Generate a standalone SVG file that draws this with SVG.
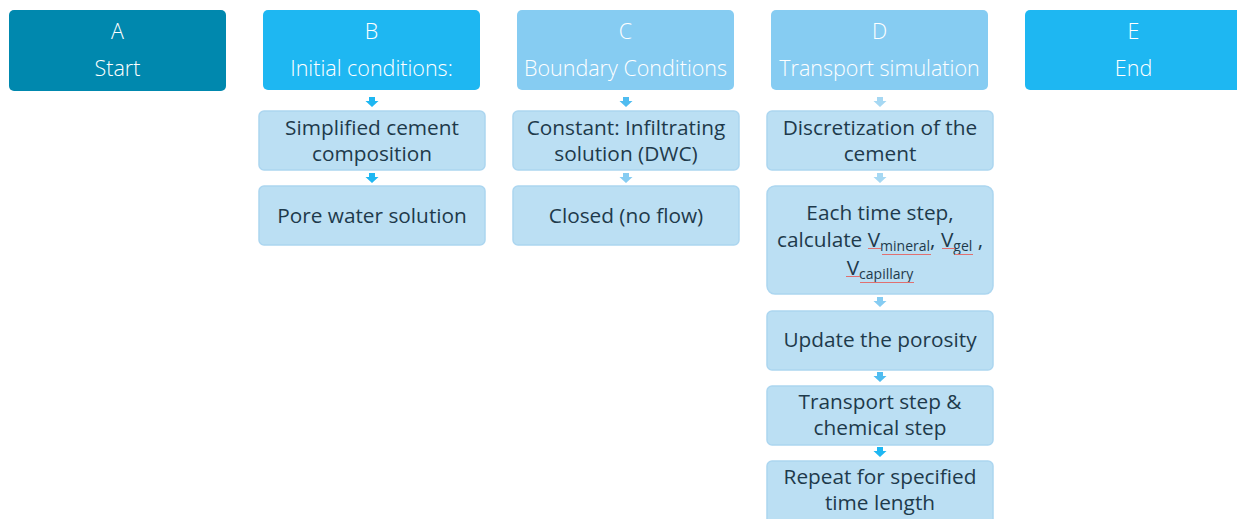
<svg xmlns="http://www.w3.org/2000/svg" width="1237" height="519" viewBox="0 0 1237 519">
<style>
.hdr{stroke:none}
.sub{fill:#bbdff3;stroke:#acd6f0;stroke-width:1.5}
.ht{font-family:"Open Sans","Liberation Sans",sans-serif;font-weight:300;font-size:21.5px;fill:#ffffff;text-anchor:middle}
.st{font-family:"Open Sans","Liberation Sans",sans-serif;font-size:20.8px;fill:#1e3a4b;text-anchor:middle}
.sb{font-size:14px}
.sq{stroke:#e07070;stroke-width:1;fill:none}
</style>
<rect width="1237" height="519" fill="#ffffff"/>
<g id="A"><rect class="hdr" x="9" y="10" width="217" height="81" rx="5" fill="#0088ae"/><text class="ht" x="117.5" y="39">A</text><text class="ht" x="117.5" y="76">Start</text></g>
<g id="B"><rect class="hdr" x="263" y="10" width="217" height="80" rx="5" fill="#1eb7f2"/><text class="ht" x="371.5" y="39">B</text><text class="ht" x="371.5" y="76">Initial conditions:</text></g>
<g id="C"><rect class="hdr" x="517" y="10" width="217" height="80" rx="5" fill="#86ccf2"/><text class="ht" x="625.5" y="39">C</text><text class="ht" x="625.5" y="76">Boundary Conditions</text></g>
<g id="D"><rect class="hdr" x="771" y="10" width="217" height="80" rx="5" fill="#86ccf2"/><text class="ht" x="879.5" y="39">D</text><text class="ht" x="879.5" y="76">Transport simulation</text></g>
<g id="E"><rect class="hdr" x="1025" y="10" width="225" height="80" rx="5" fill="#1eb7f2"/><text class="ht" x="1133.5" y="39">E</text><text class="ht" x="1133.5" y="76">End</text></g>
<g id="B1"><rect class="sub" x="259" y="111" width="226" height="59" rx="5"/><text class="st" x="372" y="135">Simplified cement</text><text class="st" x="372" y="161">composition</text></g>
<g id="B2"><rect class="sub" x="259" y="186" width="226" height="59" rx="5"/><text class="st" x="372" y="223">Pore water solution</text></g>
<g id="C1"><rect class="sub" x="513" y="111" width="226" height="59" rx="5"/><text class="st" x="626" y="135">Constant: Infiltrating</text><text class="st" x="626" y="161">solution (DWC)</text></g>
<g id="C2"><rect class="sub" x="513" y="186" width="226" height="59" rx="5"/><text class="st" x="626" y="223">Closed (no flow)</text></g>
<g id="D1"><rect class="sub" x="767" y="111" width="226" height="59" rx="5"/><text class="st" x="880" y="135">Discretization of the</text><text class="st" x="880" y="161">cement</text></g>
<g id="D2"><rect class="sub" x="767" y="186" width="226" height="108" rx="8"/><text class="st" x="880" y="220">Each time step,</text><text class="st" x="880" y="247">calculate V<tspan class="sb" dy="4">mineral</tspan><tspan dy="-4">, V</tspan><tspan class="sb" dy="4">gel</tspan><tspan dy="-4"> ,</tspan></text><text class="st" x="880" y="275">V<tspan class="sb" dy="4">capillary</tspan></text>
<path class="sq" d="M868 248.5 h13 M882 254.5 h49 M942 248.5 h13 M955 254.5 h18 M846 276.5 h14 M860 282.5 h54"/></g>
<g id="D3"><rect class="sub" x="767" y="311" width="226" height="59" rx="5"/><text class="st" x="880" y="347">Update the porosity</text></g>
<g id="D4"><rect class="sub" x="767" y="386" width="226" height="59" rx="5"/><text class="st" x="880" y="409">Transport step &amp;</text><text class="st" x="880" y="435">chemical step</text></g>
<g id="D5"><rect class="sub" x="767" y="461" width="226" height="66" rx="5"/><text class="st" x="880" y="484">Repeat for specified</text><text class="st" x="880" y="510">time length</text></g>
<g id="connectors">
<path d="M369 97h6v4h3.5l-6.5 6l-6.5-6h3.5z" fill="#1eb7f2"/>
<path d="M369 173h6v4h3.5l-6.5 6l-6.5-6h3.5z" fill="#1eb7f2"/>
<path d="M623 97h6v4h3.5l-6.5 6l-6.5-6h3.5z" fill="#4fbcf0"/>
<path d="M623 173h6v4h3.5l-6.5 6l-6.5-6h3.5z" fill="#86ccf2"/>
<path d="M877 97h6v4h3.5l-6.5 6l-6.5-6h3.5z" fill="#a6d8f3"/>
<path d="M877 173h6v4h3.5l-6.5 6l-6.5-6h3.5z" fill="#a6d8f3"/>
<path d="M877 297h6v4h3.5l-6.5 6l-6.5-6h3.5z" fill="#86ccf2"/>
<path d="M877 372h6v4h3.5l-6.5 6l-6.5-6h3.5z" fill="#4fbcf0"/>
<path d="M877 447h6v4h3.5l-6.5 6l-6.5-6h3.5z" fill="#1eb7f2"/>
</g>
</svg>
